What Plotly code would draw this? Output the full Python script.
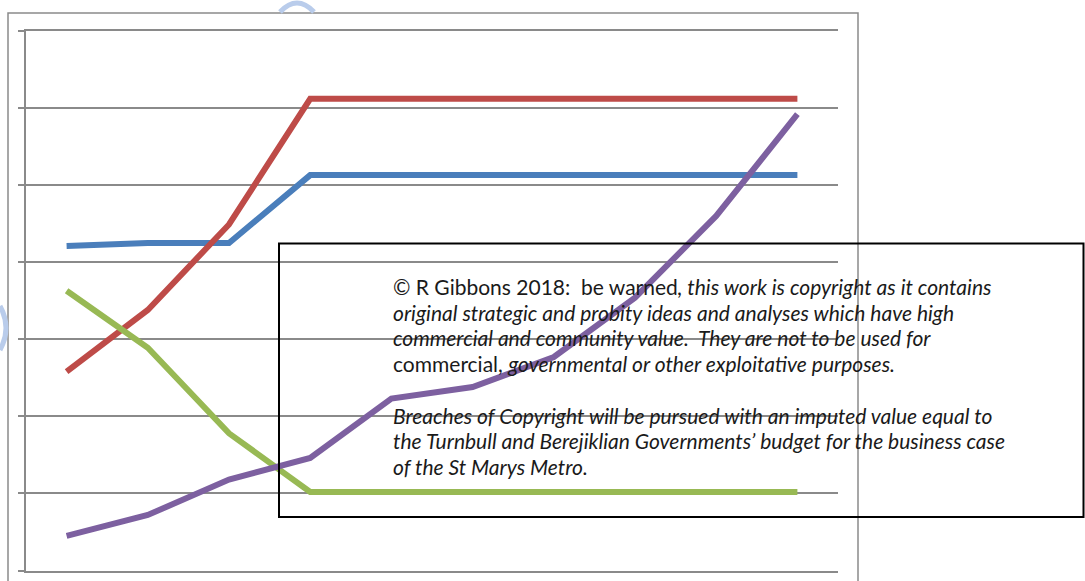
import plotly.graph_objects as go

W, H = 1085, 581

periods = [1, 2, 3, 4, 5, 6, 7, 8, 9, 10]
series_blue = [42.1, 42.5, 42.5, 51.3, 51.3, 51.3, 51.3, 51.3, 51.3, 51.3]
series_red = [25.8, 33.8, 44.9, 61.2, 61.2, 61.2, 61.2, 61.2, 61.2, 61.2]
series_green = [36.3, 28.9, 17.8, 10.2, 10.2, 10.2, 10.2, 10.2, 10.2, 10.2]
series_purple = [4.5, 7.2, 11.8, 14.6, 22.3, 23.8, 27.7, 35.4, 46.0, 59.2]

note_lines = [
    "© R Gibbons 2018:&nbsp; be warned<i>, this work is copyright as it contains</i>",
    "<i>original strategic and probity ideas and analyses which have high</i>",
    "<i>commercial and community value.&nbsp; They are not to be used for</i>",
    "commercial, <i>governmental or other exploitative purposes.</i>",
    "",
    "<i>Breaches of Copyright will be pursued with an imputed value equal to</i>",
    "<i>the Turnbull and Berejiklian Governments’ budget for the business case</i>",
    "<i>of the St Marys Metro.</i>",
]

colors = ["#4A7EBB", "#BE4B48", "#98B954", "#7D60A0"]
GRID = "#8a8a8a"

def px(x):
    return x / W

def py(y):
    return 1 - y / H

fig = go.Figure()
for vals, col in zip([series_blue, series_red, series_green, series_purple], colors):
    fig.add_trace(go.Scatter(x=periods, y=vals, mode="lines",
                             line=dict(color=col, width=6), hoverinfo="skip",
                             showlegend=False))

x_lo, x_hi = periods[0] - 0.5, periods[-1] + 0.5
fig.update_layout(
    width=W, height=H,
    margin=dict(l=0, r=0, t=0, b=0),
    paper_bgcolor="white", plot_bgcolor="white",
    showlegend=False,
    xaxis=dict(domain=[px(26), px(838)], range=[x_lo, x_hi], showgrid=False,
               zeroline=False, showticklabels=False, ticks="",
               showline=True, linecolor=GRID, linewidth=1.5, mirror=True),
    yaxis=dict(domain=[py(570.5), py(31)], range=[0, 70], dtick=10, tick0=0,
               showgrid=True, gridcolor=GRID, gridwidth=1.5, zeroline=False,
               showticklabels=False, ticks="outside", ticklen=6,
               tickcolor=GRID, tickwidth=1.5,
               showline=True, linecolor=GRID, linewidth=1.5),
    xaxis2=dict(overlaying="x", anchor="free", position=py(416.5),
                range=[x_lo, x_hi], tickmode="array",
                tickvals=[x_lo] + [p + 0.5 for p in periods],
                ticks="outside", ticklen=4, tickcolor=GRID, tickwidth=1.2,
                showticklabels=False, showgrid=False, zeroline=False,
                showline=False),
    yaxis2=dict(overlaying="y", side="right", anchor="x", range=[0, 5],
                tickmode="linear", tick0=0, dtick=1, ticks="outside",
                ticklen=5, tickcolor=GRID, tickwidth=1.2,
                showticklabels=False, showgrid=False, zeroline=False,
                showline=True, linecolor=GRID, linewidth=1.5),
)

# chart border
fig.add_shape(type="rect", xref="paper", yref="paper",
              x0=px(8), x1=px(858), y0=-0.05, y1=py(13),
              line=dict(color=GRID, width=1.5), fillcolor="rgba(0,0,0,0)")
# watermark fragments
fig.add_shape(type="path", xref="paper", yref="paper",
              path=f"M {px(280)},{py(12)} Q {px(297)},{py(-6)} {px(314)},{py(12)}",
              line=dict(color="#B9CCEB", width=5))
fig.add_shape(type="path", xref="paper", yref="paper",
              path=f"M {px(0)},{py(306)} Q {px(12)},{py(328)} {px(0)},{py(350)}",
              line=dict(color="#B9CCEB", width=5))
# text box
fig.add_shape(type="rect", xref="paper", yref="paper",
              x0=px(279), x1=px(1083.5), y0=py(517), y1=py(243.5),
              line=dict(color="black", width=2), fillcolor="rgba(0,0,0,0)")

y0 = 286.5
for i, t in enumerate(note_lines):
    if not t:
        continue
    fig.add_annotation(xref="paper", yref="paper", x=px(391), y=py(y0 + i * 25.7),
                       xanchor="left", yanchor="middle", showarrow=False,
                       align="left", text=t,
                       font=dict(family="Lato", size=21, color="#1a1a1a"))

fig.write_html("out.html")
